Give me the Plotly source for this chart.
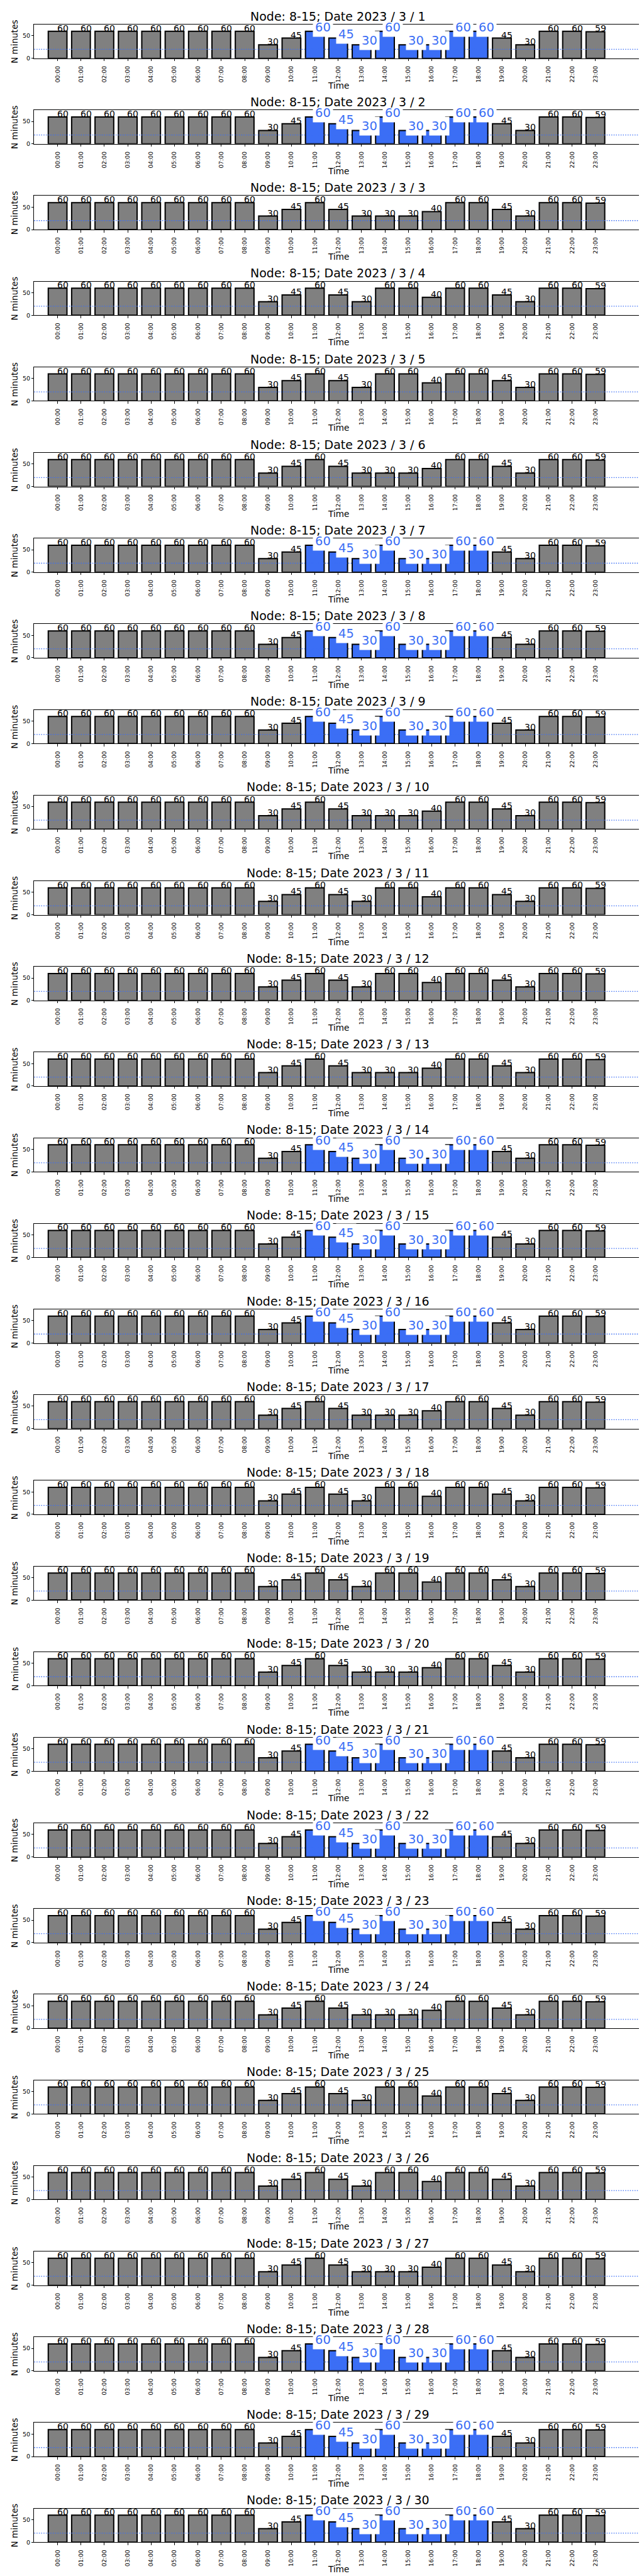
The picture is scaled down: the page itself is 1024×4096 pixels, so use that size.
import plotly.graph_objects as go

# ---------------- data ----------------
hour_labels = ["00:00", "01:00", "02:00", "03:00", "04:00", "05:00", "06:00", "07:00",
               "08:00", "09:00", "10:00", "11:00", "12:00", "13:00", "14:00", "15:00",
               "16:00", "17:00", "18:00", "19:00", "20:00", "21:00", "22:00", "23:00"]
hour_index = list(range(24))

values_kind_a = [60, 60, 60, 60, 60, 60, 60, 60, 60, 30, 45, 60, 45, 30, 30, 30, 40, 60, 60, 45, 30, 60, 60, 59]
values_kind_b = [60, 60, 60, 60, 60, 60, 60, 60, 60, 30, 45, 60, 45, 30, 60, 60, 40, 60, 60, 45, 30, 60, 60, 59]
values_kind_h = [60, 60, 60, 60, 60, 60, 60, 60, 60, 30, 45, 60, 45, 30, 60, 30, 30, 60, 60, 45, 30, 60, 60, 59]

day_numbers = list(range(1, 31))
day_kind = ["H", "H", "A", "B", "B", "A", "H", "H", "H", "A", "B", "B", "A", "H", "H",
            "H", "A", "B", "B", "A", "H", "H", "H", "A", "B", "B", "A", "H", "H", "H"]
highlight_hours = [11, 12, 13, 14, 15, 16, 17, 18]
threshold = 20
node_name = "8-15"

values_by_kind = {"A": values_kind_a, "B": values_kind_b, "H": values_kind_h}

W, H = 1024, 4096
FW, FH = 1500.0, 6000.0
BLUE = "#3b6ef5"
GRAY = "#808080"
FONT = "DejaVu Sans"

def py(yfull):
    return 1 - yfull / FH

x0d, x1d = 68 / FW, 1484 / FW
xmid = (x0d + x1d) / 2

fig = go.Figure()
annotations = []
shapes = []

for i, day in enumerate(day_numbers):
    n = i + 1
    xa = "x" if n == 1 else f"x{n}"
    ya = "y" if n == 1 else f"y{n}"
    kind = day_kind[i]
    vals = values_by_kind[kind]
    hl = highlight_hours if kind == "H" else []

    colors = [BLUE if h in hl else GRAY for h in hour_index]
    fig.add_trace(go.Bar(
        x=hour_index, y=vals, width=0.8,
        marker=dict(color=colors, line=dict(color="black", width=2)),
        xaxis=xa, yaxis=ya, showlegend=False, hoverinfo="skip"))

    for h in hour_index:
        if h in hl:
            annotations.append(dict(
                x=h, y=vals[h], xref=xa, yref=ya, text=str(vals[h]),
                xanchor="left", yanchor="bottom", showarrow=False,
                xshift=-4, yshift=-9, bgcolor="white", borderpad=3,
                font=dict(family=FONT, size=19.5, color=BLUE)))
        else:
            annotations.append(dict(
                x=h, y=vals[h], xref=xa, yref=ya, text=str(vals[h]),
                xanchor="left", yanchor="bottom", showarrow=False,
                xshift=-2, yshift=-4, borderpad=0,
                font=dict(family=FONT, size=14, color="black")))

    shapes.append(dict(
        type="line", xref=f"{xa} domain", x0=0, x1=1, yref=ya, y0=threshold, y1=threshold,
        line=dict(color=BLUE, width=1.3, dash="1.5px,2.2px"), layer="above"))

    top = 45.5 + i * 199.5
    bot = top + 78.5

    fig.layout[f"xaxis{'' if n == 1 else n}"] = dict(
        domain=[x0d, x1d], anchor=ya, range=[-1, 25], automargin=False,
        tickmode="array", tickvals=hour_index, ticktext=hour_labels,
        tickangle=-90, ticks="outside", ticklen=3.5, tickcolor="black",
        ticklabelstandoff=4,
        tickfont=dict(family=FONT, size=9.2, color="black"),
        showline=True, linecolor="black", linewidth=1, mirror=True,
        showgrid=False, zeroline=False, fixedrange=True)
    fig.layout[f"yaxis{'' if n == 1 else n}"] = dict(
        domain=[py(bot), py(top)], anchor=xa, range=[0, 75], automargin=False,
        tickmode="array", tickvals=[0, 50], ticktext=["0", "50"],
        ticks="outside", ticklen=3.5, tickcolor="black",
        tickfont=dict(family=FONT, size=9.5, color="black"),
        showline=True, linecolor="black", linewidth=1, mirror=True,
        showgrid=False, zeroline=False, fixedrange=True)

    annotations.append(dict(
        x=xmid, y=py(top - 19.5), xref="paper", yref="paper",
        text=f"Node: {node_name}; Date 2023 / 3 / {day}", showarrow=False,
        xanchor="center", yanchor="middle",
        font=dict(family=FONT, size=19, color="black")))
    annotations.append(dict(
        x=xmid, y=py(bot + 63), xref="paper", yref="paper", text="Time",
        showarrow=False, xanchor="center", yanchor="middle",
        font=dict(family=FONT, size=13.6, color="black")))
    annotations.append(dict(
        x=22 / FW, y=py((top + bot) / 2), xref="paper", yref="paper", text="N minutes",
        showarrow=False, xanchor="center", yanchor="middle", textangle=-90,
        font=dict(family=FONT, size=13.6, color="black")))

fig.update_layout(
    template="none",
    width=W, height=H, margin=dict(l=0, r=0, t=0, b=0, pad=0),
    paper_bgcolor="white", plot_bgcolor="white",
    annotations=annotations, shapes=shapes, bargap=0.2,
    font=dict(family=FONT))

fig.write_html("out.html")
